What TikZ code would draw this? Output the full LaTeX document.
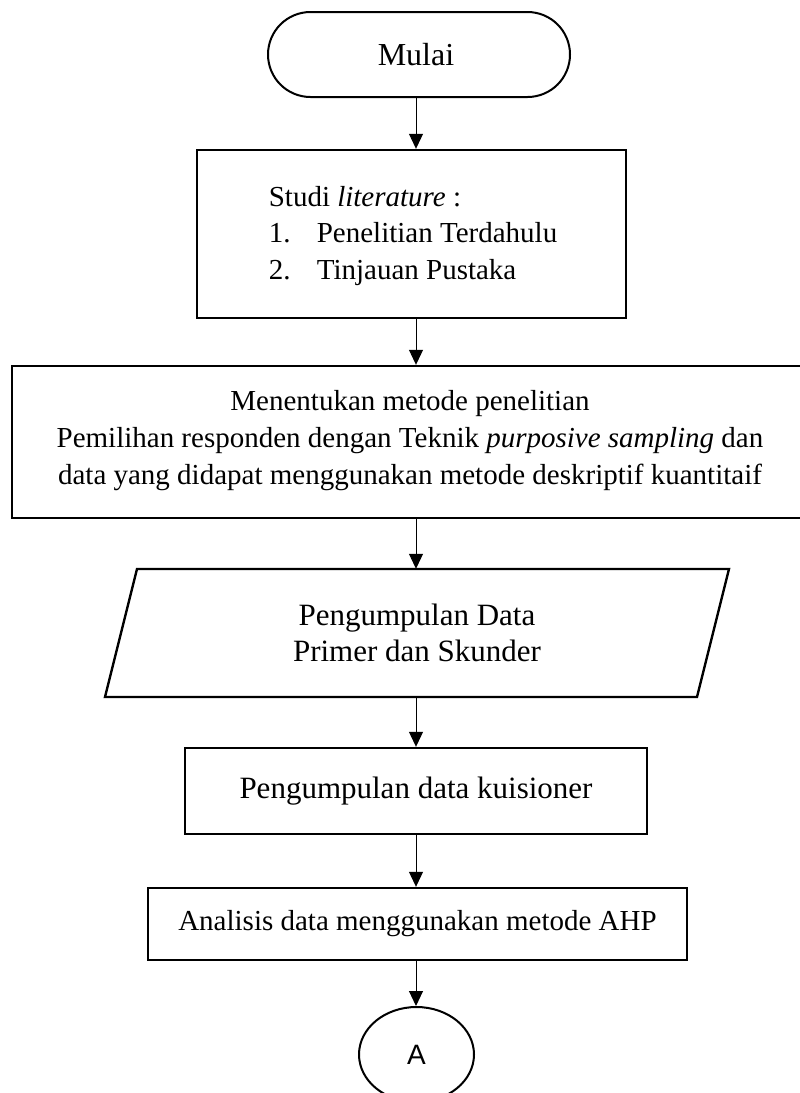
\documentclass[tikz,border=0pt]{standalone}
\usepackage{fontspec}
\setmainfont{Liberation Serif}
\newfontfamily\arialfont{Liberation Sans}
\usetikzlibrary{arrows.meta,shapes.geometric,calc}
\tikzset{
  boxstyle/.style={draw=black, line width=2.4pt, rectangle, inner sep=0pt, align=center},
  termstyle/.style={draw=black, line width=2pt, rectangle, rounded corners=42.5pt, inner sep=0pt},
  connstyle/.style={ellipse, draw=black, line width=2pt, inner sep=0pt},
  flow/.style={draw=black, line width=1pt, -{Triangle[length=15pt,width=14pt]}},
}
\begin{document}
\begin{tikzpicture}[x=1pt,y=-1pt]
\useasboundingbox (0,0) rectangle (800,1093);
\clip (0,0) rectangle (800,1093);
\coordinate (col) at (416,0);
% Mulai
\node[termstyle, minimum width=302pt, minimum height=85pt] (mulai) at (419,54.5) {};
\node[anchor=base, inner sep=0pt, font={\fontsize{32}{38}\selectfont}] (mulaitxt) at (416,65) {Mulai};
% Studi literature
\node[boxstyle, minimum width=429pt, minimum height=168pt] (b2) at (411.5,234) {};
\node[align=left, inner sep=0pt, font={\fontsize{29}{36.5}\selectfont}] (b2txt) at (413,236) {Studi \textit{literature} :\\ \makebox[48pt][l]{1.}Penelitian Terdahulu\\ \makebox[48pt][l]{2.}Tinjauan Pustaka};
% Menentukan metode
\node[boxstyle, minimum width=790pt, minimum height=152pt] (b3) at (407,442) {};
\node[align=center, inner sep=0pt, font={\fontsize{29}{37}\selectfont}] (b3txt) at (410,441) {Menentukan metode penelitian\\ Pemilihan responden dengan Teknik \textit{purposive sampling} dan\\ data yang didapat menggunakan metode deskriptif kuantitaif};
% Parallelogram
\node[minimum width=592pt, minimum height=128pt, inner sep=0pt, align=center, font={\fontsize{31}{36}\selectfont}] (p4) at (417,633) {Pengumpulan Data\\ Primer dan Skunder};
\draw[line width=2.4pt, line join=miter] (137,569) -- (729,569) -- (697,697) -- (105,697) -- cycle;
% Pengumpulan data kuisioner
\node[boxstyle, minimum width=462pt, minimum height=86pt, font={\fontsize{31}{36}\selectfont}] (b5) at (416,791) {Pengumpulan data kuisioner};
% Analisis
\node[boxstyle, minimum width=539pt, minimum height=72pt, font={\fontsize{29}{34}\selectfont}] (b6) at (417.5,924) {Analisis data menggunakan metode AHP};
% Connector A
\node[connstyle, minimum width=115pt, minimum height=95pt, font={\arialfont\fontsize{28}{32}\selectfont}] (conA) at (416.5,1054.5) {A};
% arrows
\draw[flow] (mulai.south -| col) -- (b2.north -| col);
\draw[flow] (b2.south -| col) -- (b3.north -| col);
\draw[flow] (b3.south -| col) -- (p4.north -| col);
\draw[flow] (p4.south -| col) -- (b5.north -| col);
\draw[flow] (b5.south -| col) -- (b6.north -| col);
\draw[flow] (b6.south -| col) -- (conA.north -| col);
\end{tikzpicture}
\end{document}
